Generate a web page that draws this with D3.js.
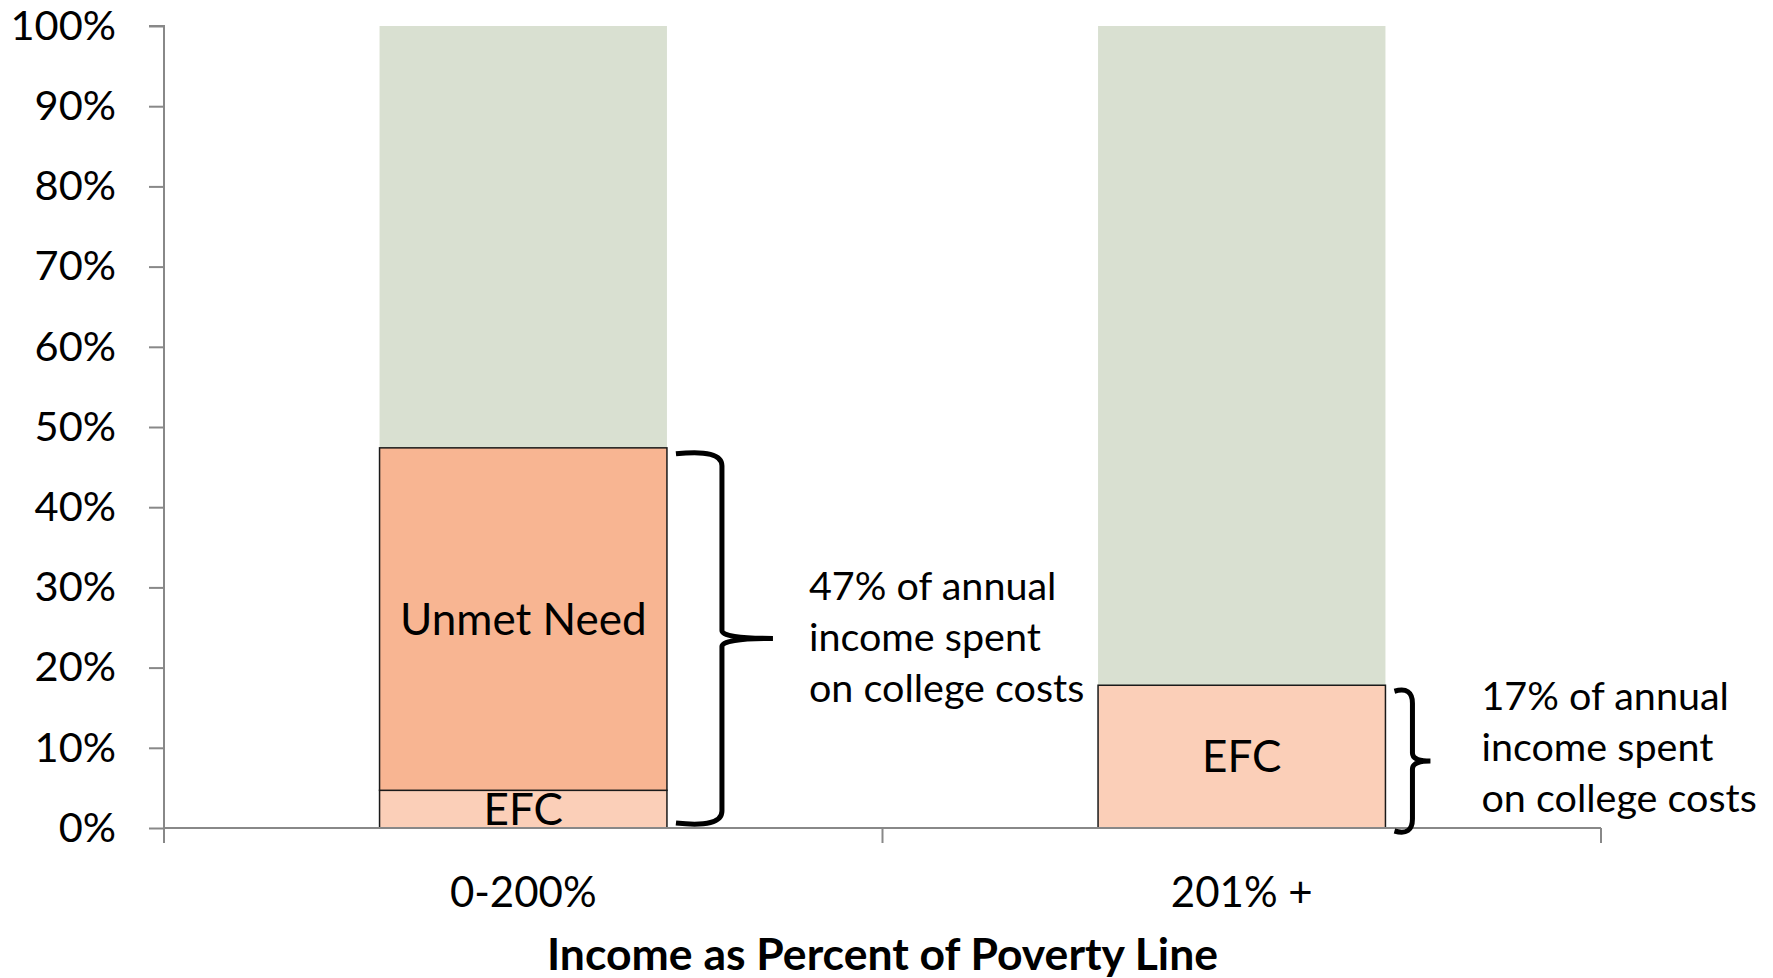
<!DOCTYPE html>
<html>
<head>
<meta charset="utf-8">
<script src="https://cdn.jsdelivr.net/npm/d3@7"></script>
<style>
  html, body { margin: 0; padding: 0; background: #fff; }
  svg { display: block; font-family: Lato, "Open Sans", sans-serif; }
</style>
</head>
<body>
<svg id="chart" width="1773" height="978"></svg>
<script>
// ---- data ----
const categories = ["0-200%", "201% +"];
const efcValues = [4.7, 17.8];
const unmetValues = [42.7, 0];
const remainderTotal = [100, 100];
const yTicks = [0, 10, 20, 30, 40, 50, 60, 70, 80, 90, 100];
const annotations = [
  ["47% of annual", "income spent", "on college costs"],
  ["17% of annual", "income spent", "on college costs"]
];
const xTitle = "Income as Percent of Poverty Line";

(function () {
// ---- layout ----
const svg = d3.select("#chart");
const pLeft = 164, pRight = 1601, pTop = 26, pBottom = 828;

const x = d3.scaleBand().domain(categories).range([pLeft, pRight])
  .paddingInner(0.6).paddingOuter(0.3);
const xAxisBand = d3.scaleBand().domain(categories).range([pLeft, pRight]);
const y = d3.scaleLinear().domain([0, 100]).range([pBottom, pTop]);

const colGreen = "#d9e0d1", colUnmet = "#f8b592", colEfc = "#fbcfb8";

// background (remainder) bars
svg.append("g").selectAll("rect").data(categories).join("rect")
  .attr("x", d => x(d)).attr("width", x.bandwidth())
  .attr("y", (d, i) => y(remainderTotal[i]))
  .attr("height", (d, i) => y(0) - y(remainderTotal[i]))
  .attr("fill", colGreen);

// EFC
svg.append("g").selectAll("rect").data(categories).join("rect")
  .attr("x", d => x(d)).attr("width", x.bandwidth())
  .attr("y", (d, i) => y(efcValues[i]))
  .attr("height", (d, i) => y(0) - y(efcValues[i]))
  .attr("fill", colEfc).attr("stroke", "#1a1a1a").attr("stroke-width", 1.5);

// Unmet need
svg.append("g").selectAll("rect").data(categories.filter((d, i) => unmetValues[i] > 0)).join("rect")
  .attr("x", d => x(d)).attr("width", x.bandwidth())
  .attr("y", d => { const i = categories.indexOf(d); return y(efcValues[i] + unmetValues[i]); })
  .attr("height", d => { const i = categories.indexOf(d); return y(efcValues[i]) - y(efcValues[i] + unmetValues[i]); })
  .attr("fill", colUnmet).attr("stroke", "#1a1a1a").attr("stroke-width", 1.5);

// y axis
const yAxis = svg.append("g").attr("transform", `translate(${pLeft},0)`)
  .call(d3.axisLeft(y).tickValues(yTicks).tickFormat(d => d + "%").tickSize(15).tickPadding(33));
yAxis.select(".domain").attr("stroke", "#888").attr("stroke-width", 2)
  .attr("d", `M-15,${pTop}H0V${pBottom + 15}`);
yAxis.selectAll(".tick line").attr("stroke", "#888").attr("stroke-width", 2);
yAxis.selectAll(".tick text").attr("font-size", 41.5).attr("fill", "#000")
  .attr("font-family", "Lato, sans-serif");

// x axis
const xAxis = svg.append("g").attr("transform", `translate(0,${pBottom})`);
xAxis.append("path").attr("d", `M${pLeft},0H${pRight}`).attr("stroke", "#888").attr("stroke-width", 2).attr("fill", "none");
const boundaries = [pLeft, ...categories.map(c => xAxisBand(c) + xAxisBand.bandwidth())];
xAxis.selectAll("line.tk").data(boundaries).join("line").attr("class", "tk")
  .attr("x1", d => d).attr("x2", d => d).attr("y1", 0).attr("y2", 15)
  .attr("stroke", "#888").attr("stroke-width", 2);
xAxis.selectAll("text.cat").data(categories).join("text").attr("class", "cat")
  .attr("x", d => x(d) + x.bandwidth() / 2).attr("y", 79)
  .attr("text-anchor", "middle").attr("font-size", 42).text(d => d);

svg.append("text").attr("x", (pLeft + pRight) / 2).attr("y", 970)
  .attr("text-anchor", "middle").attr("font-size", 44.5).attr("font-weight", "bold")
  .text(xTitle);

// in-bar labels
const lab = svg.append("g").attr("font-size", 44).attr("text-anchor", "middle");
categories.forEach((c, i) => {
  const cx = x(c) + x.bandwidth() / 2;
  lab.append("text").attr("x", cx).attr("y", (y(0) + y(efcValues[i])) / 2)
    .attr("dy", "0.36em").text("EFC");
  if (unmetValues[i] > 0) {
    lab.append("text").attr("x", cx)
      .attr("y", (y(efcValues[i]) + y(efcValues[i] + unmetValues[i])) / 2)
      .attr("dy", "0.36em").text("Unmet Need");
  }
});

// brackets
function brace(x0, y0, y1, xv, xt) {
  const ym = (y0 + y1) / 2;
  const r = 8;
  return `M${x0},${y0 + 2} Q${xv},${y0 - 3} ${xv},${y0 + r + 6}` +
    ` L${xv},${ym - r} Q${xv},${ym} ${xt},${ym}` +
    ` Q${xv},${ym} ${xv},${ym + r}` +
    ` L${xv},${y1 - r - 6} Q${xv},${y1 + 3} ${x0},${y1 - 2}`;
}
const br = svg.append("g").attr("fill", "none").attr("stroke", "#000").attr("stroke-width", 5);
categories.forEach((c, i) => {
  const total = efcValues[i] + unmetValues[i];
  const xr = x(c) + x.bandwidth();
  const yt = y(total) + 4, yb = i === 0 ? y(0) - 3 : y(0) + 5;
  const xv = i === 0 ? xr + 55 : xr + 27;
  const xt = i === 0 ? xr + 106 : xr + 45;
  br.append("path").attr("d", brace(xr + 9, yt, yb, xv, xt));
  const tx = i === 0 ? xr + 142 : xr + 96;
  const ty0 = i === 0 ? 600 : 710;
  const t = svg.append("text").attr("font-size", 39.5);
  annotations[i].forEach((line, k) => {
    t.append("tspan").attr("x", tx).attr("y", ty0 + k * 51).text(line);
  });
});
})();
</script>
</body>
</html>
